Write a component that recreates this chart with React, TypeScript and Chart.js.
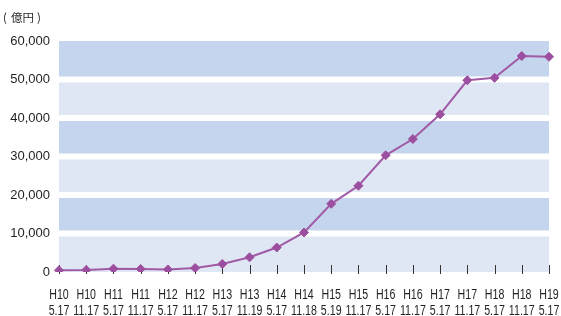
import React, { useEffect, useRef } from "react";
import { Chart, registerables } from "chart.js";

Chart.register(...registerables);

// Category labels (two lines each: era year / date)
const eraLabels = ["H10", "H10", "H11", "H11", "H12", "H12", "H13", "H13", "H14", "H14", "H15", "H15", "H16", "H16", "H17", "H17", "H18", "H18", "H19"];
const dateLabels = ["5.17", "11.17", "5.17", "11.17", "5.17", "11.17", "5.17", "11.19", "5.17", "11.18", "5.19", "11.17", "5.17", "11.17", "5.17", "11.17", "5.17", "11.17", "5.17"];

// Series values (億円)
const values = [450, 520, 860, 780, 650, 1040, 2080, 3820, 6360, 10260, 17710, 22410, 30310, 34540, 40950, 49790, 50430, 56100, 55910];

// Y axis
const yMin = 0;
const yMax = 60000;
const yStep = 10000;

const unitText = "億円";

const bandDark = "#c6d5ee";
const bandLight = "#dfe6f4";
const lineColor = "#a05aa6";
const markerColor = "#9c4f9e";
const textColor = "#231f20";

const bandsPlugin = {
  id: "bands",
  beforeDatasetsDraw(chart: any) {
    const { ctx, chartArea, scales } = chart;
    const y = scales.y;
    const x = scales.x;
    ctx.save();
    let k = 0;
    for (let v = yMin; v < yMax; v += yStep, k++) {
      const v1 = v + yStep;
      const top = y.getPixelForValue(v1) + (v1 >= yMax ? 0 : 3);
      const bottom = y.getPixelForValue(v) - (v <= yMin ? 0 : 3);
      ctx.fillStyle = k % 2 === 0 ? bandLight : bandDark;
      ctx.fillRect(chartArea.left, top, chartArea.right - chartArea.left, bottom - top);
    }
    // inner tick marks at each category
    ctx.strokeStyle = "#333333";
    ctx.lineWidth = 1;
    for (let i = 0; i < values.length; i++) {
      const px = Math.round(x.getPixelForValue(i)) + 0.5;
      ctx.beginPath();
      ctx.moveTo(px, chartArea.bottom - 7);
      ctx.lineTo(px, chartArea.bottom + 2);
      ctx.stroke();
    }
    ctx.restore();
  },
  afterDraw(chart: any) {
    const { ctx, scales, chartArea } = chart;
    const x = scales.x;
    ctx.save();
    ctx.fillStyle = textColor;
    // unit label
    ctx.textBaseline = "middle";
    ctx.textAlign = "left";
    ctx.font = '11.5px "Noto Sans CJK JP", sans-serif';
    ctx.fillText("(", 3, 17.5);
    ctx.fillText(unitText, 11, 17.5);
    ctx.fillText(")", 37, 17.5);
    // x category labels (condensed)
    ctx.font = '14px "Liberation Sans", Arial, sans-serif';
    ctx.textAlign = "center";
    ctx.textBaseline = "alphabetic";
    const sx = 0.76;
    for (let i = 0; i < eraLabels.length; i++) {
      const px = x.getPixelForValue(i);
      ctx.save();
      ctx.translate(px, 0);
      ctx.scale(sx, 1);
      ctx.fillText(eraLabels[i], 0, chartArea.bottom + 27);
      ctx.fillText(dateLabels[i], 0, chartArea.bottom + 43);
      ctx.restore();
    }
    ctx.restore();
  },
};

export default function App() {
  const ref = useRef<HTMLCanvasElement | null>(null);

  useEffect(() => {
    if (!ref.current) return;
    const chart = new Chart(ref.current, {
      type: "line",
      data: {
        labels: eraLabels.map((e, i) => e + " " + dateLabels[i]),
        datasets: [
          {
            data: values,
            borderColor: lineColor,
            borderWidth: 2,
            pointStyle: "rectRot",
            pointRadius: 4.5,
            pointBackgroundColor: markerColor,
            pointBorderColor: markerColor,
            pointBorderWidth: 1,
            tension: 0,
          },
        ],
      },
      options: {
        responsive: false,
        animation: false,
        devicePixelRatio: 1,
        layout: { padding: { left: 0, right: 12, top: 41, bottom: 0 } },
        plugins: {
          legend: { display: false },
          tooltip: { enabled: false },
          title: { display: false },
        },
        scales: {
          x: {
            offset: false,
            grid: { display: false, drawTicks: false },
            border: { display: false },
            ticks: { display: false, autoSkip: false, maxRotation: 0, minRotation: 0 },
            afterFit(scale: any) {
              scale.height = 44;
              scale.paddingLeft = 0;
              scale.paddingRight = 0;
            },
          },
          y: {
            min: yMin,
            max: yMax,
            grid: { display: false, drawTicks: false },
            border: { display: false },
            ticks: {
              stepSize: yStep,
              padding: 9,
              color: textColor,
              font: { family: '"Liberation Sans", Arial, sans-serif', size: 13 },
              callback: (v: any) => Number(v).toLocaleString("en-US"),
            },
            afterFit(scale: any) {
              scale.width = 59;
            },
          },
        },
      },
      plugins: [bandsPlugin],
    });
    return () => chart.destroy();
  }, []);

  return (
    <div style={{ position: "absolute", left: 0, top: 0, width: 561, height: 316, background: "#ffffff" }}>
      <canvas ref={ref} width={561} height={316} style={{ display: "block", width: 561, height: 316 }} />
    </div>
  );
}
